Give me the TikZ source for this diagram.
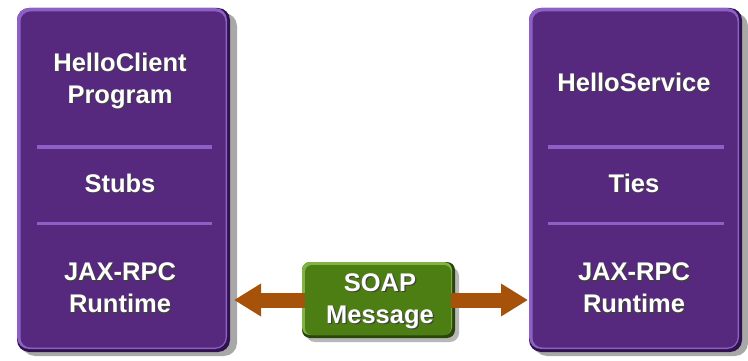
\documentclass[tikz,border=0pt]{standalone}
\usepackage{fontspec}
\setmainfont{Liberation Sans}
\usetikzlibrary{arrows.meta}
\definecolor{purp}{RGB}{86,40,126}
\definecolor{purplight}{RGB}{140,96,196}
\definecolor{purpdark}{RGB}{48,18,78}
\definecolor{grn}{RGB}{76,126,20}
\definecolor{grnlight}{RGB}{130,178,70}
\definecolor{grndark}{RGB}{40,70,10}
\definecolor{brn}{RGB}{166,82,10}
\definecolor{shd}{RGB}{110,110,110}
\tikzset{
  x=1pt, y=-1pt,
  lbl/.style={font=\bfseries\fontsize{25.5}{32}\selectfont, text=white, align=center, inner sep=0pt},
  lblshadow/.style={font=\bfseries\fontsize{25.5}{32}\selectfont, text=black!75, align=center, inner sep=0pt},
  sep/.style={draw=purplight, line width=3pt},
  arr/.style={draw=brn, line width=15pt, -{Triangle[length=27pt,width=31pt]}, shorten >=0pt},
}
\newcommand{\shtext}[4]{%
  \node[lblshadow] at (#1+1.3,#2+1.3) {#4};
  \node[lbl] (#3) at (#1,#2) {#4};}
\begin{document}
\begin{tikzpicture}
\useasboundingbox (0,0) rectangle (748,361);
\fill[white] (0,0) rectangle (748,361);
% left box
\fill[shd!60, rounded corners=13pt] (22,13) rectangle (237,356);
\fill[purpdark, rounded corners=12pt] (17,8) rectangle (230,352);
\fill[purplight, rounded corners=12pt] (17,8) rectangle (227,349);
\node[fill=purp, rounded corners=10pt, minimum width=205pt, minimum height=336pt, inner sep=0pt] (L) at (123,179.5) {};
% right box
\fill[shd!60, rounded corners=13pt] (534,13) rectangle (748,356);
\fill[purpdark, rounded corners=12pt] (529,8) rectangle (742,352);
\fill[purplight, rounded corners=12pt] (529,8) rectangle (739,349);
\node[fill=purp, rounded corners=10pt, minimum width=205pt, minimum height=336pt, inner sep=0pt] (R) at (635,179.5) {};
% separators
\coordinate (l1a) at (37,147); \coordinate (l1b) at (212,147);
\coordinate (l2a) at (37,223); \coordinate (l2b) at (212,223);
\coordinate (r1a) at (548,147); \coordinate (r1b) at (724,147);
\coordinate (r2a) at (548,223); \coordinate (r2b) at (724,223);
\draw[sep] (l1a) -- (l1b);
\draw[sep] (l2a) -- (l2b);
\draw[sep] (r1a) -- (r1b);
\draw[sep] (r2a) -- (r2b);
% texts
\shtext{120}{81}{lt1}{HelloClient\\Program}
\shtext{120}{183}{lt2}{Stubs}
\shtext{120}{288}{lt3}{JAX-RPC\\Runtime}
\shtext{634}{82}{rt1}{HelloService}
\shtext{634}{183}{rt2}{Ties}
\shtext{634}{288}{rt3}{JAX-RPC\\Runtime}
% soap box
\fill[shd!50, rounded corners=9pt] (306,267) rectangle (459,342);
\fill[grndark, rounded corners=8pt] (302,262) rectangle (455,338);
\fill[grnlight, rounded corners=8pt] (302,262) rectangle (452,335);
\node[fill=grn, rounded corners=7pt, minimum width=146pt, minimum height=70pt, inner sep=0pt] (S) at (378,300) {};
\shtext{380}{301}{st}{SOAP\\Message}
% arrows
\coordinate (la) at (234,300);
\coordinate (ra) at (528,300);
\draw[arr] (S.west) -- (la);
\draw[arr] (S.east) -- (ra);
\end{tikzpicture}
\end{document}
